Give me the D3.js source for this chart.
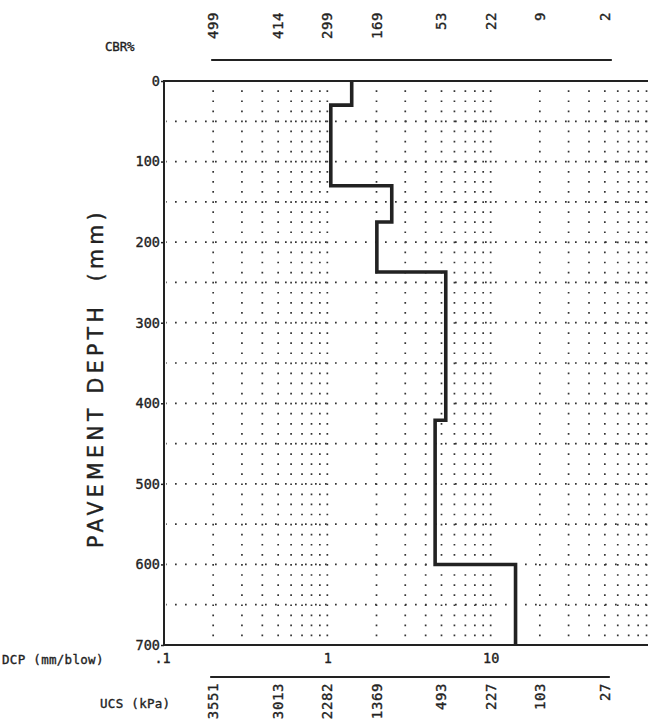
<!DOCTYPE html>
<html>
<head>
<meta charset="utf-8">
<script src="https://cdn.jsdelivr.net/npm/d3@7"></script>
<style>
  html, body { margin: 0; padding: 0; background: #fff; }
  svg { display: block; }
  text { fill: #222; stroke: #222; stroke-width: 0.35px; }
</style>
</head>
<body>
<svg id="chart" width="648" height="721"></svg>
<script>
// ---- data ----
const depthBreaks = [0, 30, 130, 175, 237, 421, 600, 700];      // layer boundaries (mm)
const dcpValues   = [1.41, 1.05, 2.48, 2.01, 5.31, 4.57, 14.2]; // DCP (mm/blow) per layer
const depthTicks  = [0, 100, 200, 300, 400, 500, 600, 700];
const depthGrid   = [50, 100, 150, 200, 250, 300, 350, 400, 450, 500, 550, 600, 650];
const dcpTicks    = [0.1, 1, 10];
const dcpTickLabels = [".1", "1", "10"];
const gridDcp     = [0.2,0.3,0.4,0.5,0.6,0.7,0.8,0.9,1,2,3,4,5,6,7,8,9,10,20,30,40,50,60,70,80,90];
const scalePos    = [0.2, 0.5, 1, 2, 5, 10, 20, 50];
const cbrLabels   = ["499", "414", "299", "169", "53", "22", "9", "2"];
const ucsLabels   = ["3551", "3013", "2282", "1369", "493", "227", "103", "27"];

// ---- scales ----
const x = d3.scaleLog().domain([0.1, 100]).range([164, 654]);
const y = d3.scaleLinear().domain([0, 700]).range([81, 645]);

const svg = d3.select("#chart");
const ink = "#222";
const mono = "'DejaVu Sans Mono', monospace";

// ---- dotted grid ----
const grid = svg.append("g");
grid.selectAll("line.h").data(depthGrid).join("line")
  .attr("x1", x(0.1) + 2).attr("x2", 648)
  .attr("y1", d => y(d)).attr("y2", d => y(d))
  .attr("stroke", "#333").attr("stroke-width", 1.7)
  .attr("stroke-dasharray", "1.7,8.3").attr("stroke-dashoffset", -9);
grid.selectAll("line.v").data(gridDcp).join("line")
  .attr("x1", d => x(d)).attr("x2", d => x(d))
  .attr("y1", y(0)).attr("y2", y(700))
  .attr("stroke", "#333").attr("stroke-width", 1.7)
  .attr("stroke-dasharray", "1.7,8.38").attr("stroke-dashoffset", -9.3);

// ---- frame ----
svg.append("path")
  .attr("d", `M${x(100)},${y(0)} H${x(0.1)} V${y(700)} H${x(100)}`)
  .attr("fill", "none").attr("stroke", ink).attr("stroke-width", 2);

// ---- left axis ----
const yAxis = d3.axisLeft(y).tickValues(depthTicks).tickSize(3).tickFormat(d3.format("d"));
const gy = svg.append("g").attr("transform", `translate(${x(0.1)},0)`).call(yAxis);
gy.select(".domain").remove();
gy.selectAll(".tick line").attr("stroke", ink).attr("stroke-width", 1.5);
gy.selectAll(".tick text").attr("font-family", mono).attr("font-size", 13.5)
  .attr("x", -4).attr("dy", "0.32em").attr("fill", ink);

// ---- bottom DCP axis ----
const xAxis = d3.axisBottom(x).tickValues(dcpTicks).tickSize(0)
  .tickFormat((d, i) => dcpTickLabels[i]);
const gx = svg.append("g").attr("transform", `translate(0,${y(700)})`).call(xAxis);
gx.select(".domain").remove();
gx.selectAll(".tick text").attr("font-family", mono).attr("font-size", 13.5)
  .attr("y", 8).attr("fill", ink);
gx.selectAll(".tick text").filter((d, i) => i === 0).attr("dx", -2);

svg.append("text").attr("x", 2).attr("y", 664)
  .attr("font-family", mono).attr("font-size", 12.5).attr("letter-spacing", 0.3)
  .text("DCP (mm/blow)");

// ---- CBR scale (top) ----
svg.append("line")
  .attr("x1", x(0.2) - 2).attr("x2", x(50) + 7)
  .attr("y1", 60).attr("y2", 60).attr("stroke", ink).attr("stroke-width", 1.8);
svg.selectAll("text.cbr").data(scalePos).join("text")
  .attr("class", "cbr")
  .attr("transform", d => `translate(${x(d)},12) rotate(-90)`)
  .attr("text-anchor", "end").attr("dominant-baseline", "central")
  .attr("font-family", mono).attr("font-size", 14).attr("letter-spacing", 0.6)
  .text((d, i) => cbrLabels[i]);
svg.append("text").attr("x", 105).attr("y", 51)
  .attr("font-family", mono).attr("font-size", 12.5).attr("letter-spacing", -0.2)
  .text("CBR%");

// ---- UCS scale (bottom) ----
svg.append("line")
  .attr("x1", x(0.2) - 3).attr("x2", x(50) + 5)
  .attr("y1", 677).attr("y2", 677).attr("stroke", ink).attr("stroke-width", 1.8);
svg.selectAll("text.ucs").data(scalePos).join("text")
  .attr("class", "ucs")
  .attr("transform", d => `translate(${x(d)},683) rotate(-90)`)
  .attr("text-anchor", "end").attr("dominant-baseline", "central")
  .attr("font-family", mono).attr("font-size", 14).attr("letter-spacing", 0.6)
  .text((d, i) => ucsLabels[i]);
svg.append("text").attr("x", 100).attr("y", 708)
  .attr("font-family", mono).attr("font-size", 12.5).attr("letter-spacing", 0.3)
  .text("UCS (kPa)");

// ---- y-axis title ----
svg.append("text")
  .attr("transform", `translate(103,378) rotate(-90)`)
  .attr("text-anchor", "middle")
  .attr("font-family", "'DejaVu Sans', sans-serif").attr("font-size", 20.5)
  .attr("letter-spacing", 4.3)
  .style("white-space", "pre")
  .text("PAVEMENT DEPTH  (mm)");

// ---- DCP profile (step line) ----
const pts = [];
dcpValues.forEach((v, i) => {
  pts.push([v, depthBreaks[i]]);
  pts.push([v, depthBreaks[i + 1]]);
});
const line = d3.line().x(d => x(d[0])).y(d => y(d[1]));
svg.append("path").datum(pts)
  .attr("d", line)
  .attr("fill", "none").attr("stroke", ink).attr("stroke-width", 3.6)
  .attr("stroke-linejoin", "miter");
</script>
</body>
</html>
